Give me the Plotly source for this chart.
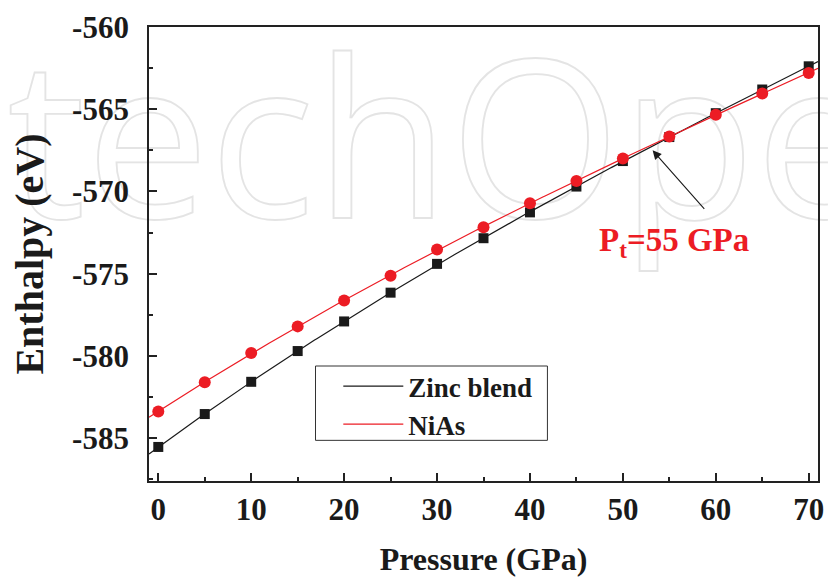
import base64
import numpy as np
import plotly.graph_objects as go

# ---- data ----
pressure = [0, 5, 10, 15, 20, 25, 30, 35, 40, 45, 50, 55, 60, 65, 70]
zinc_blend = [-585.53, -583.53, -581.57, -579.70, -577.90, -576.15, -574.40,
              -572.84, -571.27, -569.70, -568.15, -566.69, -565.24, -563.80, -562.39]
nias = [-583.37, -581.60, -579.82, -578.20, -576.63, -575.12, -573.52,
        -572.17, -570.71, -569.36, -568.00, -566.65, -565.34, -564.04, -562.79]
series_names = ["Zinc blend", "NiAs"]
x_ticks = [0, 10, 20, 30, 40, 50, 60, 70]
y_ticks = [-585, -580, -575, -570, -565, -560]
y_tick_labels = ["-585", "-580", "-575", "-570", "-565", "-560"]
transition_label = "P<sub>t</sub>=55 GPa"
transition_pressure = 55

W, H = 834, 585
L, R, T, B = 149, 10, 23, 104
pw, ph = W - L - R, H - T - B

BLACK = "#1a1a1a"
RED = "#ec1c24"
FONT = "Liberation Serif"

xr = [-1, 71]
yr = [-587.6, -560]


def px_x(p):
    return (p - L) / pw


def px_y(p):
    return (H - B - p) / ph


fig = go.Figure()

# smooth fitted curves across full axis range
xf = np.linspace(xr[0], xr[1], 300)
for name, vals, col in [(series_names[0], zinc_blend, BLACK), (series_names[1], nias, RED)]:
    c = np.polyfit(pressure, vals, 3)
    fig.add_trace(go.Scatter(x=xf, y=np.polyval(c, xf), mode="lines", name=name,
                             line=dict(color=col, width=1.2), showlegend=True))

fig.add_trace(go.Scatter(x=pressure, y=zinc_blend, mode="markers", showlegend=False,
                         marker=dict(symbol="square", size=10, color=BLACK)))
fig.add_trace(go.Scatter(x=pressure, y=nias, mode="markers", showlegend=False,
                         marker=dict(symbol="circle", size=12, color=RED)))

# watermark as an SVG image behind everything
svg = f'''<svg xmlns="http://www.w3.org/2000/svg" width="{W}" height="{H}" viewBox="0 0 {W} {H}">
<text x="6" y="216" font-family="Open Sans, DejaVu Sans, sans-serif" font-weight="400" font-size="222" fill="none" stroke="#e4e4e4" stroke-width="1.8">techOpen</text>
</svg>'''
src = "data:image/svg+xml;base64," + base64.b64encode(svg.encode()).decode()
fig.add_layout_image(dict(source=src, xref="paper", yref="paper",
                          x=-L / pw, y=1 + T / ph, sizex=W / pw, sizey=H / ph,
                          xanchor="left", yanchor="top", sizing="stretch", layer="below"))

# legend frame
fig.add_shape(type="rect", xref="paper", yref="paper",
              x0=px_x(317), x1=px_x(551), y0=px_y(440), y1=px_y(365),
              line=dict(color="#333", width=1), fillcolor="white", layer="below")

# annotation arrow + label
fig.add_annotation(x=transition_pressure - 1.8, y=-567.5, ax=53, ay=60, xref="x", yref="y",
                   text="", showarrow=True, arrowhead=2, arrowsize=1.6, arrowwidth=1.1,
                   arrowcolor=BLACK)
fig.add_annotation(x=px_x(601), y=px_y(240), xref="paper", yref="paper",
                   xanchor="left", yanchor="middle",
                   text=transition_label, showarrow=False,
                   font=dict(family=FONT, size=33, color=RED, weight="bold"))

axis_common = dict(showline=True, linecolor="#222", linewidth=1.8, mirror=True,
                   ticks="inside", ticklen=8, tickwidth=1.5, tickcolor="#222",
                   showgrid=False, zeroline=False,
                   tickfont=dict(family=FONT, size=31, color=BLACK, weight="bold"))

fig.update_xaxes(range=xr, tickvals=x_ticks, ticklabelstandoff=0,
                 minor=dict(ticks="inside", ticklen=4, tickwidth=1.5, tickcolor="#222", dtick=5, tick0=0),
                 title=dict(text="Pressure (GPa)", standoff=22,
                            font=dict(family=FONT, size=32, color=BLACK, weight="bold")),
                 **axis_common)
fig.update_yaxes(range=yr, tickvals=y_ticks, ticktext=y_tick_labels, ticklabelstandoff=12,
                 minor=dict(ticks="inside", ticklen=4, tickwidth=1.5, tickcolor="#222", dtick=2.5, tick0=-560),
                 title=dict(text="Enthalpy (eV)", standoff=16,
                            font=dict(family=FONT, size=40, color=BLACK, weight="bold")),
                 **axis_common)

fig.update_layout(
    width=W, height=H, margin=dict(l=L, r=R, t=T, b=B),
    paper_bgcolor="white", plot_bgcolor="rgba(0,0,0,0)",
    legend=dict(x=px_x(340), y=px_y(361), xanchor="left", yanchor="top",
                borderwidth=0, bgcolor="rgba(0,0,0,0)",
                font=dict(family=FONT, size=27, color=BLACK, weight="bold"),
                itemwidth=60, tracegroupgap=0),
)

fig.write_html("out.html")
